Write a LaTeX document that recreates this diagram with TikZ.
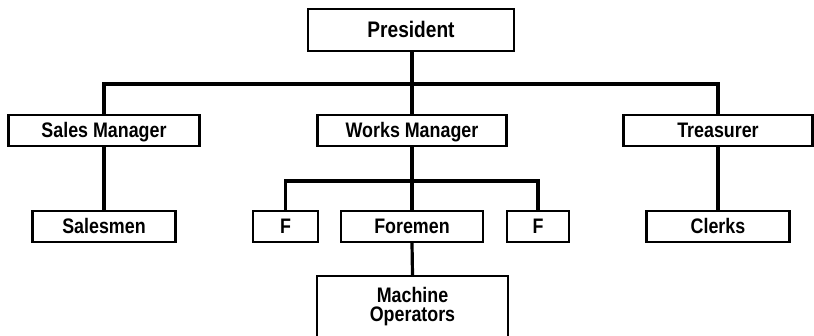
\documentclass[tikz,border=0pt]{standalone}
\usepackage{fontspec}
\setmainfont{Liberation Sans}[FakeStretch=0.85]
\begin{document}
\begin{tikzpicture}[x=1pt,y=-1pt,
  lbl/.style={font=\fontsize{21}{19.5}\selectfont\bfseries},
  box/.style={lbl, draw=black, line width=2.2pt, fill=white, rectangle, inner sep=0pt,
    minimum height=31pt, text height=15pt, text depth=0pt},
  conn/.style={draw=black, line width=3.2pt, line join=miter, line cap=butt}]
\clip (0,0) rectangle (814,336);
\fill[white] (0,0) rectangle (814,336);
% nodes
\node[box, minimum width=206pt, minimum height=42pt, text height=16pt,
      font=\fontsize{22.5}{22}\selectfont\bfseries] (pres) at (411,30) {President};
\node[box, minimum width=191pt] (sm) at (104,130.5) {Sales Manager};
\node[box, minimum width=189pt] (wm) at (412,130.5) {Works Manager};
\node[box, minimum width=189pt] (tr) at (718,130.5) {Treasurer};
\node[box, minimum width=143pt] (sa) at (104,226.5) {Salesmen};
\node[box, minimum width=65pt] (fl) at (285.5,226.5) {F};
\node[box, minimum width=142pt] (fo) at (412,226.5) {Foremen};
\node[box, minimum width=62pt] (fr) at (538,226.5) {F};
\node[box, minimum width=143pt] (cl) at (718,226.5) {Clerks};
\node[box, minimum width=191pt, minimum height=100pt, anchor=north] (mo) at (412.5,275) {};
\node[lbl, align=center, inner sep=0pt] (motext) at (412.5,306.5) {Machine\\Operators};
% connectors
\coordinate (b1) at (412,84);
\coordinate (b2) at (412,181);
\draw[conn] (pres.south -| b1) -- (wm.north -| b1);
\draw[conn] (sm.north) |- (b1) -| (tr.north);
\draw[conn] (wm.south) -- (fo.north);
\draw[conn] (fl.north) |- (b2) -| (fr.north);
\draw[conn] (fo.south) -- (mo.north);
\draw[conn] (sm.south) -- (sa.north);
\draw[conn] (tr.south) -- (cl.north);
\end{tikzpicture}
\end{document}
